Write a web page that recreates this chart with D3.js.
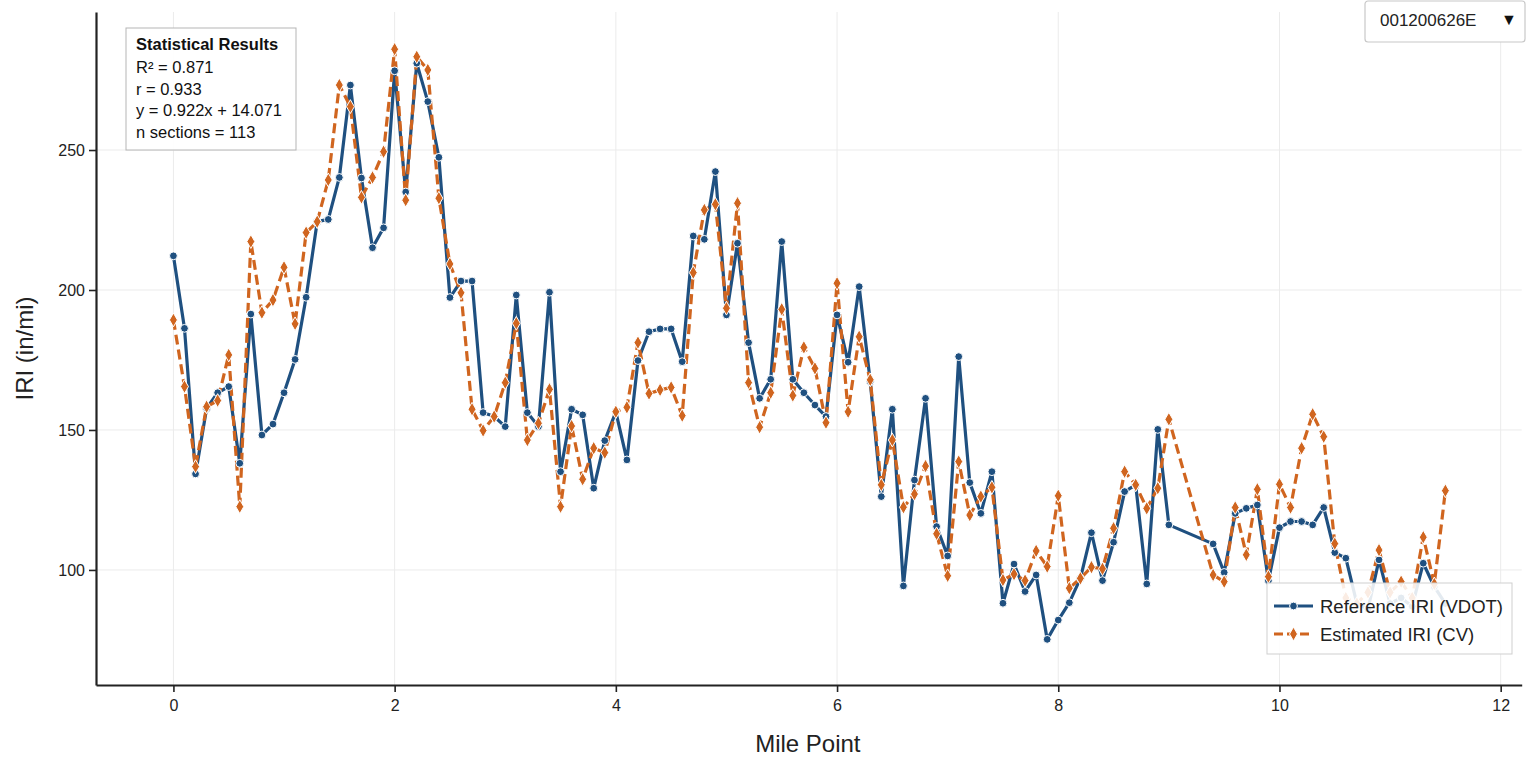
<!DOCTYPE html>
<html>
<head>
<meta charset="utf-8">
<script src="https://cdn.jsdelivr.net/npm/d3@7/dist/d3.min.js"></script>
<style>
  html, body { margin: 0; padding: 0; background: #fff; }
  svg { display: block; font-family: "Liberation Sans", Arial, Helvetica, sans-serif; }
</style>
</head>
<body>
<svg id="chart" width="1537" height="764"></svg>
<script>
const milePoints = [0.0,0.1,0.2,0.3,0.4,0.5,0.6,0.7,0.8,0.9,1.0,1.1,1.2,1.3,1.4,1.5,1.6,1.7,1.8,1.9,
  2.0,2.1,2.2,2.3,2.4,2.5,2.6,2.7,2.8,2.9,3.0,3.1,3.2,3.3,3.4,3.5,3.6,3.7,3.8,3.9,
  4.0,4.1,4.2,4.3,4.4,4.5,4.6,4.7,4.8,4.9,5.0,5.1,5.2,5.3,5.4,5.5,5.6,5.7,5.8,5.9,
  6.0,6.1,6.2,6.3,6.4,6.5,6.6,6.7,6.8,6.9,7.0,7.1,7.2,7.3,7.4,7.5,7.6,7.7,7.8,7.9,
  8.0,8.1,8.2,8.3,8.4,8.5,8.6,8.7,8.8,8.9,9.0,9.4,9.5,9.6,9.7,9.8,9.9,
  10.0,10.1,10.2,10.3,10.4,10.5,10.6,10.7,10.8,10.9,11.0,11.1,11.2,11.3,11.4,11.5];

const referenceIRI = [212.2,186.3,134.3,157.7,163.3,165.5,138.1,191.4,148.2,152.1,163.3,175.2,197.4,224.4,225.2,240.2,273.2,240,215.1,222.2,
  278.3,235,281,267.3,247.4,197.3,203.2,203.2,156.2,154.8,151.2,198.2,156.2,151.2,199.2,135.1,157.4,155.4,129.2,146.2,
  156.5,139.3,174.8,185.1,186.1,186.1,174.4,219.3,218.1,242.3,191.1,216.7,181.2,161.3,168.1,217.3,168.1,163.3,158.9,154.8,
  191.1,174.2,201.2,167.3,126.2,157.4,94.3,132.1,161.3,115.5,105,176.2,131.2,120.2,135.1,88.1,102.1,92.3,98.2,75.2,
  82.1,88.3,97,113.3,96.2,109.9,128,130.4,95,150.2,116.1,109.3,99.1,120.2,122,123.2,96.1,
  115.1,117.3,117.3,116.1,122.3,106.2,104.2,88,86,103.6,88,90,87,102.4,94,88];

const estimatedIRI = [189.3,165.5,136.9,158.3,160.5,176.8,122.6,217.3,191.9,196.4,208.1,187.9,220.5,224.4,239.3,273.2,265.5,233.1,240.2,249.4,
  286,232.1,283.3,278.6,232.8,209.3,199,157.4,149.8,154.8,166.9,188.1,146.4,152.4,164.5,122.6,151.4,132.4,143.5,141.9,
  156.5,158.1,181.2,163,164.3,165.2,155.1,206.2,228.6,230.6,193.5,231,166.9,151,163.3,193.1,162.3,179.5,172,152.6,
  202.4,156.5,183.3,167.9,130.4,146.4,122.4,127.1,137.1,112.9,97.9,138.7,119.6,126.2,129.5,96.4,98.5,96.2,106.8,101.2,
  126.5,93.5,97,101,100.4,114.9,135.1,130.4,122,129.2,153.8,98.2,95.8,122.3,105.4,128.8,97.6,
  130.6,122.3,143.5,155.6,147.6,109.4,90,88,92,107.1,92,95.8,90,111.7,95,128.3];

const xTicks = [0, 2, 4, 6, 8, 10, 12];
const yTicks = [100, 150, 200, 250];
const seriesNames = ["Reference IRI (VDOT)", "Estimated IRI (CV)"];
const statLines = ["R\u00B2 = 0.871", "r = 0.933", "y = 0.922x + 14.071", "n sections = 113"];
const statTitle = "Statistical Results";
const segmentId = "001200626E";

const COLORS = ["#1f5080", "#d0651f"];
const svg = d3.select("#chart");
const L = 96, R = 1521.7, T = 12, B = 685;

const x = d3.scaleLinear().domain([-0.7, 12.19]).range([L, R]);
const y = d3.scaleLinear().domain([58.9, 299.3]).range([B, T]);

// gridlines
const grid = svg.append("g");
grid.selectAll("line.gx").data(xTicks).join("line")
  .attr("x1", d => x(d)).attr("x2", d => x(d)).attr("y1", T).attr("y2", B)
  .attr("stroke", "#ebebeb").attr("stroke-width", 1);
grid.selectAll("line.gy").data(yTicks).join("line")
  .attr("x1", L).attr("x2", R).attr("y1", d => y(d)).attr("y2", d => y(d))
  .attr("stroke", "#ebebeb").attr("stroke-width", 1);

// axes
const xAxis = svg.append("g").attr("transform", `translate(0,${B})`)
  .call(d3.axisBottom(x).tickValues(xTicks).tickFormat(d3.format("d")).tickSizeInner(7).tickSizeOuter(0).tickPadding(8));
const yAxis = svg.append("g").attr("transform", `translate(${L},0)`)
  .call(d3.axisLeft(y).tickValues(yTicks).tickFormat(d3.format("d")).tickSizeInner(7).tickSizeOuter(0).tickPadding(4));
[xAxis, yAxis].forEach(a => {
  a.select(".domain").attr("stroke", "#222").attr("stroke-width", 2.2);
  a.selectAll(".tick line").attr("stroke", "#222").attr("stroke-width", 1.6);
  a.selectAll(".tick text").attr("fill", "#222").style("font-size", "16px")
    .style("font-family", "'Liberation Sans', Arial, sans-serif");
});

// axis titles
svg.append("text").attr("x", (L + R) / 2 - 1).attr("y", 752).attr("text-anchor", "middle")
  .attr("fill", "#222").style("font-size", "24px").text("Mile Point");
svg.append("text").attr("transform", `translate(33,${(T + B) / 2}) rotate(-90)`)
  .attr("text-anchor", "middle").attr("fill", "#222").style("font-size", "24px").text("IRI (in/mi)");

// series
const rows = milePoints.map((m, i) => ({ m, ref: referenceIRI[i], est: estimatedIRI[i] }));
const lineRef = d3.line().x(d => x(d.m)).y(d => y(d.ref));
const lineEst = d3.line().x(d => x(d.m)).y(d => y(d.est));

const plot = svg.append("g");
plot.append("path").datum(rows).attr("d", lineRef).attr("fill", "none")
  .attr("stroke", COLORS[0]).attr("stroke-width", 3.2).attr("stroke-linejoin", "round");
plot.append("path").datum(rows).attr("d", lineEst).attr("fill", "none")
  .attr("stroke", COLORS[1]).attr("stroke-width", 3.2).attr("stroke-dasharray", "10,5");

const circ = d3.symbol().type(d3.symbolCircle).size(48);
const diam = d3.symbol().type(d3.symbolDiamond).size(55);
plot.selectAll("path.mref").data(rows).join("path").attr("class", "mref")
  .attr("d", circ).attr("transform", d => `translate(${x(d.m)},${y(d.ref)})`)
  .attr("fill", COLORS[0]).attr("stroke", "#fff").attr("stroke-width", 1);
plot.selectAll("path.mest").data(rows).join("path").attr("class", "mest")
  .attr("d", diam).attr("transform", d => `translate(${x(d.m)},${y(d.est)})`)
  .attr("fill", COLORS[1]).attr("stroke", "#fff").attr("stroke-width", 1);

// stats box
const sb = svg.append("g");
sb.append("rect").attr("x", 126).attr("y", 28).attr("width", 170).attr("height", 122)
  .attr("fill", "#fff").attr("fill-opacity", 0.92).attr("stroke", "#b5b5b5").attr("stroke-width", 1);
sb.append("text").attr("x", 136).attr("y", 50).attr("fill", "#111")
  .style("font-size", "16.5px").style("font-weight", "bold").text(statTitle);
sb.selectAll("text.sl").data(statLines).join("text").attr("class", "sl")
  .attr("x", 136).attr("y", (d, i) => 73 + i * 21.7).attr("fill", "#111")
  .style("font-size", "16.5px").text(d => d);

// legend
const lg = svg.append("g");
lg.append("rect").attr("x", 1267).attr("y", 583).attr("width", 245).attr("height", 71)
  .attr("fill", "#fff").attr("fill-opacity", 0.88).attr("stroke", "#cfcfcf").attr("stroke-width", 1);
seriesNames.forEach((name, i) => {
  const yy = 606 + i * 28;
  lg.append("line").attr("x1", 1274).attr("x2", 1313).attr("y1", yy).attr("y2", yy)
    .attr("stroke", COLORS[i]).attr("stroke-width", 3)
    .attr("stroke-dasharray", i === 1 ? "9,4" : null);
  lg.append("path").attr("d", i === 0 ? circ : diam).attr("transform", `translate(1293.5,${yy})`)
    .attr("fill", COLORS[i]).attr("stroke", "#fff").attr("stroke-width", 1);
  lg.append("text").attr("x", 1320).attr("y", yy + 6.5).attr("fill", "#222")
    .style("font-size", "18.5px").text(name);
});

// dropdown
const dd = svg.append("g");
dd.append("rect").attr("x", 1365).attr("y", 1).attr("width", 160).attr("height", 41).attr("rx", 3)
  .attr("fill", "#fff").attr("stroke", "#c8c8c8").attr("stroke-width", 1.2);
dd.append("text").attr("x", 1380).attr("y", 26).attr("fill", "#222")
  .style("font-size", "17px").text(segmentId);
dd.append("text").attr("x", 1509).attr("y", 25).attr("text-anchor", "middle").attr("fill", "#111")
  .style("font-size", "16px").text("\u25BC");
</script>
</body>
</html>
